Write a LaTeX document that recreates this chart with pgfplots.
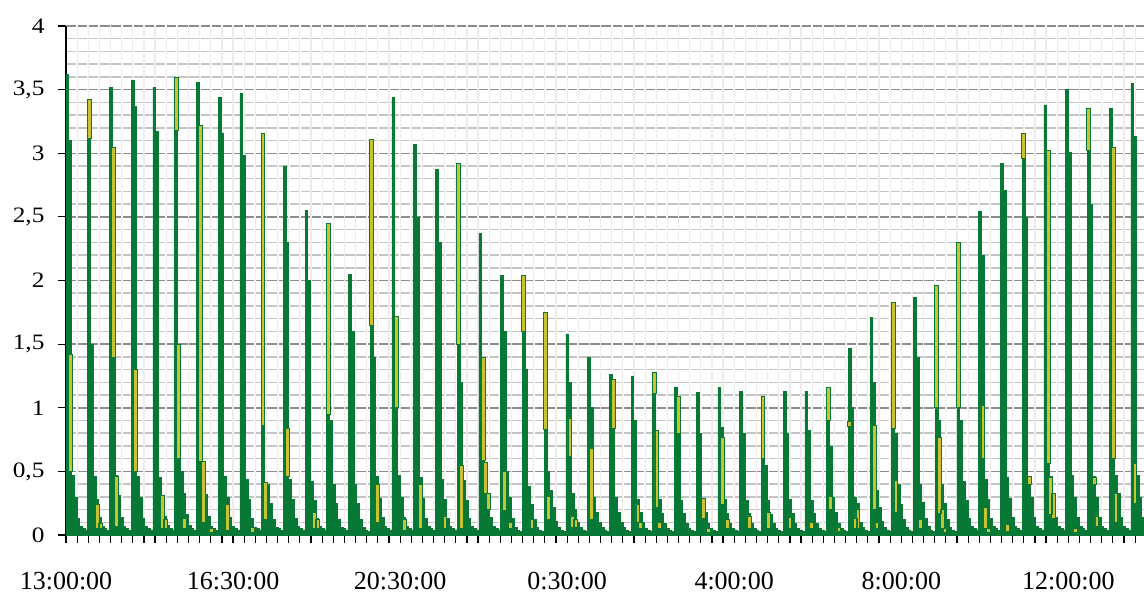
\documentclass[border=0pt]{standalone}
\usepackage{fontspec}
\setmainfont{Liberation Serif}
\newfontfamily\ylabfont[FakeStretch=1.15]{Liberation Serif}
\usepackage{pgfplots}
\pgfplotsset{compat=1.18}
\usepackage{pgfplotstable}

\definecolor{spikegreen}{HTML}{087837}
\definecolor{peakyellow}{HTML}{C6C431}
\definecolor{gridmajor}{HTML}{8C8C8C}
\definecolor{gridminor}{HTML}{C4C4C4}
\definecolor{gridvert}{HTML}{F0EAEA}

% green series: one column per step, eight steps per cycle
\pgfplotstableread{
x y
0 3.62
1 3.10
2 0.47
3 0.30
4 0.13
5 0.07
6 0.05
7 0.04
8 3.12
9 1.50
10 0.46
11 0.28
12 0.14
13 0.07
14 0.05
15 0.04
16 3.52
17 1.40
18 0.47
19 0.31
20 0.14
21 0.07
22 0.05
23 0.04
24 3.57
25 3.37
26 0.46
27 0.30
28 0.13
29 0.07
30 0.05
31 0.04
32 3.52
33 3.17
34 0.45
35 0.31
36 0.15
37 0.08
38 0.05
39 0.04
40 3.18
41 1.50
42 0.50
43 0.33
44 0.16
45 0.08
46 0.05
47 0.04
48 3.56
49 0.58
50 0.58
51 0.32
52 0.15
53 0.07
54 0.05
55 0.04
56 3.44
57 3.16
58 0.46
59 0.30
60 0.14
61 0.07
62 0.05
63 0.04
64 3.47
65 2.98
66 0.44
67 0.28
68 0.13
69 0.06
70 0.05
71 0.04
72 0.86
73 0.41
74 0.40
75 0.25
76 0.12
77 0.06
78 0.05
79 0.04
80 2.90
81 2.30
82 0.44
83 0.28
84 0.13
85 0.07
86 0.05
87 0.04
88 2.55
89 2.00
90 0.42
91 0.27
92 0.13
93 0.07
94 0.05
95 0.04
96 0.95
97 0.90
98 0.40
99 0.25
100 0.12
101 0.06
102 0.05
103 0.04
104 2.05
105 1.60
106 0.40
107 0.25
108 0.12
109 0.06
110 0.04
111 0.03
112 1.65
113 1.40
114 0.46
115 0.29
116 0.14
117 0.07
118 0.05
119 0.04
120 3.44
121 1.00
122 0.47
123 0.30
124 0.14
125 0.07
126 0.05
127 0.04
128 3.07
129 2.50
130 0.45
131 0.29
132 0.13
133 0.07
134 0.05
135 0.04
136 2.87
137 2.30
138 0.44
139 0.28
140 0.13
141 0.07
142 0.05
143 0.04
144 1.50
145 1.20
146 0.43
147 0.27
148 0.13
149 0.07
150 0.05
151 0.04
152 2.37
153 0.59
154 0.57
155 0.33
156 0.14
157 0.07
158 0.05
159 0.04
160 2.04
161 1.60
162 0.50
163 0.30
164 0.13
165 0.06
166 0.04
167 0.03
168 1.60
169 1.30
170 0.38
171 0.24
172 0.12
173 0.06
174 0.04
175 0.03
176 0.83
177 0.50
178 0.35
179 0.22
180 0.11
181 0.06
182 0.04
183 0.03
184 1.58
185 1.20
186 0.33
187 0.20
188 0.10
189 0.06
190 0.04
191 0.03
192 1.40
193 1.00
194 0.30
195 0.18
196 0.10
197 0.06
198 0.04
199 0.03
200 1.26
201 0.90
202 0.30
203 0.18
204 0.10
205 0.06
206 0.04
207 0.03
208 1.25
209 0.90
210 0.28
211 0.18
212 0.10
213 0.05
214 0.04
215 0.03
216 1.11
217 0.82
218 0.28
219 0.17
220 0.09
221 0.05
222 0.04
223 0.03
224 1.16
225 0.85
226 0.27
227 0.17
228 0.09
229 0.05
230 0.04
231 0.03
232 1.12
233 0.80
234 0.29
235 0.18
236 0.09
237 0.05
238 0.04
239 0.03
240 1.16
241 0.85
242 0.28
243 0.17
244 0.09
245 0.05
246 0.04
247 0.03
248 1.13
249 0.80
250 0.27
251 0.17
252 0.09
253 0.05
254 0.04
255 0.03
256 0.60
257 0.55
258 0.27
259 0.16
260 0.09
261 0.05
262 0.04
263 0.03
264 1.13
265 0.80
266 0.28
267 0.17
268 0.09
269 0.05
270 0.04
271 0.03
272 1.13
273 0.82
274 0.27
275 0.17
276 0.09
277 0.05
278 0.04
279 0.03
280 0.90
281 0.70
282 0.30
283 0.18
284 0.09
285 0.05
286 0.04
287 0.03
288 1.47
289 1.00
290 0.30
291 0.25
292 0.10
293 0.06
294 0.04
295 0.03
296 1.71
297 1.20
298 0.35
299 0.22
300 0.11
301 0.06
302 0.04
303 0.03
304 0.84
305 0.80
306 0.40
307 0.24
308 0.12
309 0.06
310 0.04
311 0.03
312 1.87
313 1.40
314 0.40
315 0.26
316 0.13
317 0.07
318 0.04
319 0.03
320 1.00
321 0.90
322 0.40
323 0.25
324 0.12
325 0.06
326 0.04
327 0.03
328 1.00
329 0.90
330 0.42
331 0.27
332 0.13
333 0.07
334 0.05
335 0.04
336 2.54
337 2.20
338 0.44
339 0.28
340 0.13
341 0.07
342 0.05
343 0.04
344 2.92
345 2.71
346 0.45
347 0.29
348 0.14
349 0.07
350 0.05
351 0.04
352 2.96
353 2.50
354 0.46
355 0.30
356 0.14
357 0.07
358 0.05
359 0.04
360 3.38
361 0.56
362 0.46
363 0.33
364 0.14
365 0.07
366 0.05
367 0.04
368 3.50
369 3.01
370 0.47
371 0.30
372 0.14
373 0.07
374 0.05
375 0.04
376 3.02
377 2.60
378 0.46
379 0.30
380 0.14
381 0.07
382 0.05
383 0.04
384 3.35
385 0.60
386 0.47
387 0.33
388 0.14
389 0.07
390 0.05
391 0.04
392 3.55
393 3.13
394 0.47
395 0.30
396 0.14
397 0.07
398 0.05
399 0.04
400 0.04
}\greentab

% yellow series: segments from lo to hi, centred on a column
\pgfplotstableread{
x lo hi
1.5 0.50 1.42
8.5 3.12 3.42
11.5 0.05 0.24
12.5 0.05 0.09
17.5 1.40 3.05
18.5 0.07 0.46
25.5 0.50 1.30
35.5 0.05 0.31
36.5 0.05 0.12
40.5 3.18 3.60
41.5 0.60 1.50
43.5 0.05 0.13
49.5 0.58 3.22
50.5 0.10 0.58
53.5 0.02 0.05
59.5 0.04 0.24
68.5 0.02 0.06
72.5 0.86 3.16
73.5 0.12 0.41
81.5 0.46 0.84
91.5 0.05 0.18
92.5 0.05 0.12
96.5 0.95 2.45
112.5 1.65 3.11
114.5 0.10 0.40
121.5 1.00 1.72
124.5 0.04 0.12
130.5 0.05 0.40
139.5 0.05 0.15
144.5 1.50 2.92
145.5 0.05 0.55
153.5 0.59 1.40
154.5 0.33 0.57
155.5 0.20 0.33
161.5 0.19 0.50
163.5 0.05 0.10
168.5 1.60 2.04
171.5 0.05 0.12
176.5 0.83 1.75
177.5 0.12 0.30
185.5 0.62 0.92
186.5 0.06 0.15
187.5 0.06 0.12
193.5 0.12 0.68
201.5 0.84 1.22
210.5 0.10 0.24
211.5 0.05 0.10
216.5 1.11 1.28
217.5 0.22 0.82
218.5 0.05 0.10
225.5 0.80 1.09
234.5 0.13 0.29
236.5 0.02 0.05
241.5 0.24 0.77
243.5 0.05 0.12
251.5 0.05 0.15
256.5 0.60 1.09
258.5 0.05 0.18
266.5 0.05 0.14
274.5 0.05 0.10
280.5 0.90 1.16
281.5 0.20 0.30
284.5 0.03 0.06
288.5 0.85 0.89
290.5 0.05 0.13
291.5 0.05 0.20
297.5 0.20 0.86
298.5 0.05 0.10
304.5 0.84 1.83
305.5 0.18 0.43
314.5 0.05 0.12
320.5 1.00 1.96
321.5 0.17 0.77
322.5 0.05 0.20
323.5 0.02 0.05
328.5 1.00 2.30
337.5 0.60 1.02
338.5 0.05 0.22
339.5 0.02 0.05
346.5 0.03 0.08
352.5 2.96 3.16
354.5 0.40 0.46
361.5 0.56 3.02
362.5 0.16 0.45
363.5 0.13 0.33
371.5 0.02 0.05
376.5 3.02 3.35
378.5 0.40 0.45
379.5 0.07 0.15
385.5 0.60 3.05
386.5 0.10 0.33
393.5 0.25 0.56
}\yellowtab

\pgfplotsset{
  panel/.style={
    at={(66pt,63pt)}, anchor=south west,
    scale only axis, width=1078pt, height=509pt,
    xmin=0, xmax=396.86, ymin=0, ymax=4,
    enlargelimits=false,
  },
}

\begin{document}
\begin{tikzpicture}
\useasboundingbox (0,0) rectangle (1144pt,598pt);
\begin{axis}[panel,
  axis x line=bottom, axis y line=left,
  axis line style={-, line width=1.5pt, black},
  xtick={0,4.1,...,396},
  xticklabels={13:00:00,,,,,,,,,,,,,,,16:30:00,,,,,,,,,,,,,,,20:30:00,,,,,,,,,,,,,,,0:30:00,,,,,,,,,,,,,,,4:00:00,,,,,,,,,,,,,,,8:00:00,,,,,,,,,,,,,,,12:00:00,,,,,,},
  ytick={0,0.5,...,4},
  minor y tick num=4,
  tick align=outside,
  major tick length=8pt, minor tick length=0pt,
  tick style={black, line width=1.2pt},
  xmajorgrids, ymajorgrids, yminorgrids,
  major x grid style={gridvert, line width=1.2pt},
  major y grid style={gridmajor, line width=1.5pt, dash pattern=on 9.3pt off 1.837pt, dash phase=10.22pt},
  minor y grid style={gridminor, line width=1.5pt, dash pattern=on 9.3pt off 1.837pt, dash phase=10.22pt},
  yticklabel style={font=\ylabfont\fontsize{22}{26}\selectfont, xshift=-10pt},
  xticklabel style={font=\fontsize{26}{30}\selectfont, yshift=-26pt},
  /pgf/number format/use comma,
  /pgf/number format/assume math mode=true,
]
\addplot[const plot, fill=spikegreen, draw=spikegreen, line width=0.6pt] table[x=x, y=y]{\greentab} \closedcycle;
\end{axis}
\begin{axis}[panel, hide axis, ybar stacked, bar width=1.4]
\addplot[draw=none, fill=none] table[x=x, y=lo]{\yellowtab};
\addplot[fill=peakyellow, draw=spikegreen, line width=0.7pt] table[x=x, y expr=\thisrow{hi}-\thisrow{lo}]{\yellowtab};
\end{axis}
\end{tikzpicture}
\end{document}
